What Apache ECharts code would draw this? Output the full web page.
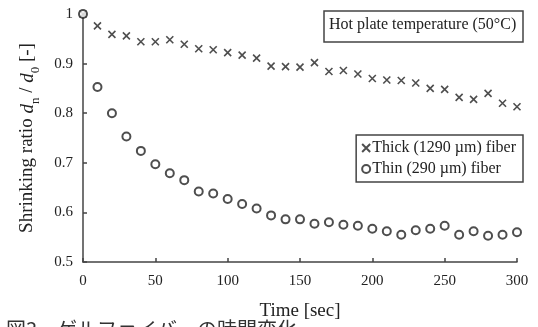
<!DOCTYPE html>
<html>
<head>
<meta charset="utf-8">
<script src="https://cdn.jsdelivr.net/npm/echarts@6/dist/echarts.min.js"></script>
<style>
  html, body { margin: 0; padding: 0; background: #fff; }
  #chart { width: 538px; height: 327px; }
</style>
</head>
<body>
<div id="chart"></div>
<script>
// time in seconds
const times = [0, 10, 20, 30, 40, 50, 60, 70, 80, 90, 100, 110, 120, 130, 140, 150,
  160, 170, 180, 190, 200, 210, 220, 230, 240, 250, 260, 270, 280, 290, 300];
// shrinking ratio, thick (1290 µm) fiber
const thick = [1, 0.976, 0.959, 0.956, 0.944, 0.944, 0.948, 0.939, 0.930, 0.928, 0.922,
  0.917, 0.911, 0.895, 0.894, 0.893, 0.902, 0.884, 0.886, 0.879, 0.870, 0.867, 0.866,
  0.861, 0.850, 0.848, 0.832, 0.828, 0.840, 0.820, 0.813];
// shrinking ratio, thin (290 µm) fiber
const thin = [1, 0.853, 0.800, 0.753, 0.724, 0.697, 0.679, 0.665, 0.642, 0.638, 0.627,
  0.617, 0.608, 0.594, 0.586, 0.586, 0.577, 0.580, 0.575, 0.573, 0.567, 0.562, 0.555,
  0.564, 0.567, 0.573, 0.555, 0.562, 0.553, 0.555, 0.560];

const font = "'Liberation Serif', 'Times New Roman', serif";
const ink = "#222";
const crossPath = "path://M0,0L10,10M10,0L0,10";

const chart = echarts.init(document.getElementById("chart"));

chart.setOption({
  animation: false,
  textStyle: { fontFamily: font, color: ink },
  grid: { left: 83, right: 21, top: 14, bottom: 65, outerBoundsMode: "none" },
  legend: {
    orient: "vertical",
    right: 15,
    top: 135,
    padding: [5, 7, 5, 5],
    itemGap: 5,
    itemWidth: 8,
    itemHeight: 8,
    borderColor: "#444",
    borderWidth: 1.5,
    textStyle: { fontFamily: font, fontSize: 16, color: ink, padding: [0, 0, 0, -3] },
    data: ["Thick (1290 µm) fiber", "Thin (290 µm) fiber"]
  },
  graphic: [
    {
      type: "rect",
      shape: { x: 324, y: 11, width: 199, height: 31 },
      style: { fill: "#fff", stroke: "#444", lineWidth: 1.5 }
    },
    {
      type: "text",
      left: 329,
      top: 17,
      style: { text: "Hot plate temperature (50°C)", font: "16px " + font, fill: ink }
    },
    {
      type: "text",
      left: 6,
      top: 319,
      style: { text: "図3　ゲルファイバーの時間変化", font: "20px 'Noto Sans CJK JP', sans-serif", fill: "#333" }
    }
  ],
  xAxis: {
    type: "value",
    min: 0,
    max: 300,
    interval: 50,
    name: "Time [sec]",
    nameLocation: "middle",
    nameGap: 40,
    nameTextStyle: { fontFamily: font, fontSize: 19, color: ink },
    axisLine: { show: true, lineStyle: { color: "#444", width: 1.5 } },
    axisTick: { show: true, inside: true, length: 4, lineStyle: { color: "#444", width: 1.5 } },
    axisLabel: { fontFamily: font, fontSize: 15, color: ink, margin: 12 },
    splitLine: { show: false }
  },
  yAxis: {
    type: "value",
    min: 0.5,
    max: 1,
    interval: 0.1,
    name: "{a|Shrinking ratio }{i|d}{s|n}{a| / }{i|d}{s|0}{a| [-]}",
    nameLocation: "middle",
    nameGap: 46,
    nameRotate: 90,
    nameTextStyle: {
      rich: {
        a: { fontFamily: font, fontSize: 19, color: ink, lineHeight: 22, verticalAlign: "bottom" },
        i: { fontFamily: font, fontSize: 19, color: ink, fontStyle: "italic", lineHeight: 22, verticalAlign: "bottom" },
        s: { fontFamily: font, fontSize: 13, color: ink, lineHeight: 22, verticalAlign: "bottom", padding: [0, 0, -5, 0] }
      }
    },
    axisLine: { show: true, lineStyle: { color: "#444", width: 1.5 } },
    axisTick: { show: true, inside: true, length: 4, lineStyle: { color: "#444", width: 1.5 } },
    axisLabel: { fontFamily: font, fontSize: 15, color: ink, margin: 10 },
    splitLine: { show: false }
  },
  series: [
    {
      name: "Thick (1290 µm) fiber",
      type: "scatter",
      symbol: crossPath,
      symbolSize: 7,
      itemStyle: { color: "rgba(0,0,0,0)", borderColor: ink, borderWidth: 1.6 },
      data: times.map((t, i) => [t, thick[i]])
    },
    {
      name: "Thin (290 µm) fiber",
      type: "scatter",
      symbol: "emptyCircle",
      symbolSize: 8,
      itemStyle: { color: ink, borderColor: ink, borderWidth: 1.5 },
      data: times.map((t, i) => [t, thin[i]])
    }
  ]
});
</script>
</body>
</html>
